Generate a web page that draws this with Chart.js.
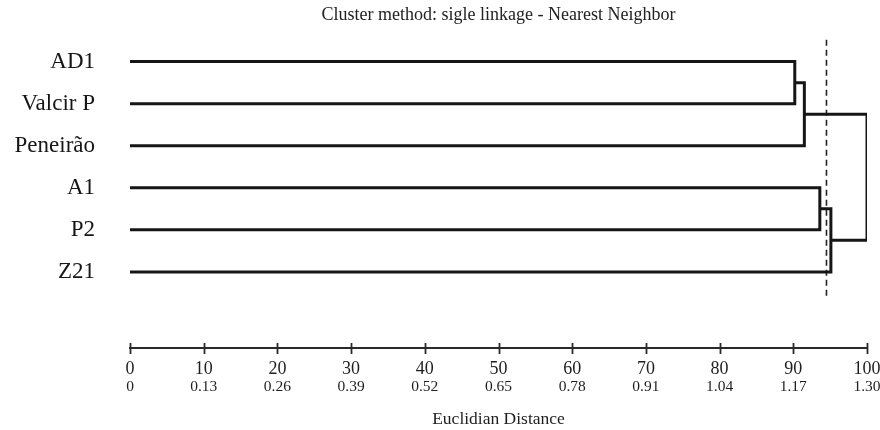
<!DOCTYPE html>
<html>
<head>
<meta charset="utf-8">
<title>Dendrogram</title>
<script src="https://cdn.jsdelivr.net/npm/chart.js@4/dist/chart.umd.min.js"></script>
<style>
  html, body { margin: 0; padding: 0; background: #ffffff; }
  #wrap { width: 880px; height: 430px; position: relative; }
</style>
</head>
<body>
<div id="wrap"><canvas id="chart"></canvas></div>
<script>
// Leaves, top to bottom
const leafLabels = ['AD1', 'Valcir P', 'Peneirão', 'A1', 'P2', 'Z21'];

// Merge steps: node ids 0..5 are leaves, each merge creates node 6, 7, ...
const mergeLeft   = [0, 6, 3, 8, 7];
const mergeRight  = [1, 2, 4, 5, 9];
const mergeHeight = [90.2, 91.5, 93.6, 95.1, 100];

// Cut level (dashed line)
const cutHeight = 94.5;

// Axis tick labels: rescaled distance and Euclidean distance
const distanceTicks = [0, 10, 20, 30, 40, 50, 60, 70, 80, 90, 100];
const euclidTicks = ['0', '0.13', '0.26', '0.39', '0.52', '0.65', '0.78', '0.91', '1.04', '1.17', '1.30'];

const SERIF = '"Liberation Serif", "DejaVu Serif", serif';
const INK = '#161616';

// Compute row position and height of every node
const nodeY = leafLabels.map((_, i) => i);
const nodeH = leafLabels.map(() => 0);
const linkSets = [];
mergeHeight.forEach((h, k) => {
  const a = mergeLeft[k], b = mergeRight[k];
  const ya = nodeY[a], yb = nodeY[b];
  linkSets.push({
    type: 'line',
    data: [
      { x: nodeH[a], y: ya },
      { x: h, y: ya },
      { x: h, y: yb },
      { x: nodeH[b], y: yb }
    ],
    borderColor: INK,
    borderWidth: 3,
    pointRadius: 0,
    tension: 0,
    fill: false,
    borderJoinStyle: 'miter',
    borderCapStyle: 'butt'
  });
  nodeY.push((ya + yb) / 2);
  nodeH.push(h);
});

// Cut line spanning the leaf rows
linkSets.push({
  type: 'line',
  data: [
    { x: cutHeight, y: -0.52 },
    { x: cutHeight, y: leafLabels.length - 1 + 0.62 }
  ],
  borderColor: '#222',
  borderWidth: 1.6,
  borderDash: [6, 4],
  pointRadius: 0,
  fill: false
});

// Tick marks crossing the distance axis line
const crossTicks = {
  id: 'crossTicks',
  afterDraw(chart) {
    const sc = chart.scales.x;
    const y0 = chart.chartArea.bottom;
    const ctx = chart.ctx;
    ctx.save();
    ctx.strokeStyle = '#2a2a2a';
    ctx.lineWidth = 1.8;
    sc.ticks.forEach(t => {
      const px = Math.round(sc.getPixelForValue(t.value)) + 0.5;
      ctx.beginPath();
      ctx.moveTo(px, y0 - 5);
      ctx.lineTo(px, y0 + 6);
      ctx.stroke();
    });
    ctx.restore();
  }
};

// Keep a fixed right margin for the distance axes
const fixRight = s => { s.paddingRight = 13; };

new Chart(document.getElementById('chart'), {
  type: 'scatter',
  data: { datasets: linkSets },
  options: {
    responsive: true,
    maintainAspectRatio: false,
    animation: false,
    layout: { padding: { left: 0, right: 0, top: 0, bottom: 0 } },
    plugins: {
      legend: { display: false },
      tooltip: { enabled: false },
      title: {
        display: true,
        text: 'Cluster method: sigle linkage - Nearest Neighbor',
        fullSize: false,
        color: '#222',
        font: { family: SERIF, size: 18, weight: 'normal' },
        padding: { top: 4, bottom: 11 }
      }
    },
    scales: {
      x: {
        type: 'linear',
        position: 'bottom',
        min: 0,
        max: 100,
        afterBuildTicks: s => { s.ticks = distanceTicks.map(v => ({ value: v })); },
        afterFit: s => { fixRight(s); s.height = 29.7; },
        grid: { display: false, drawTicks: false },
        border: { display: true, color: '#2a2a2a', width: 2 },
        ticks: {
          autoSkip: false,
          maxRotation: 0,
          padding: 10,
          color: '#1e1e1e',
          font: { family: SERIF, size: 18 },
          callback: v => String(v)
        }
      },
      x2: {
        type: 'linear',
        position: 'bottom',
        min: 0,
        max: 100,
        afterBuildTicks: s => { s.ticks = distanceTicks.map(v => ({ value: v })); },
        afterFit: s => { fixRight(s); s.height = 52.3; },
        grid: { display: false, drawTicks: false },
        border: { display: false },
        ticks: {
          autoSkip: false,
          maxRotation: 0,
          padding: 0,
          color: '#1e1e1e',
          font: { family: SERIF, size: 15.5 },
          callback: (v, i) => euclidTicks[i]
        },
        title: {
          display: true,
          text: 'Euclidian Distance',
          color: '#1e1e1e',
          font: { family: SERIF, size: 17.5 },
          padding: { top: 11, bottom: 0.5 }
        }
      },
      y: {
        type: 'linear',
        reverse: true,
        min: -0.595,
        max: 6.81,
        afterBuildTicks: s => { s.ticks = leafLabels.map((_, i) => ({ value: i })); },
        afterFit: s => { s.width = 130; },
        grid: { display: false, drawTicks: false },
        border: { display: false },
        ticks: {
          autoSkip: false,
          padding: 35,
          color: '#161616',
          font: { family: SERIF, size: 23, lineHeight: 0.1 },
          callback: v => leafLabels[v]
        }
      }
    }
  },
  plugins: [crossTicks]
});
</script>
</body>
</html>
